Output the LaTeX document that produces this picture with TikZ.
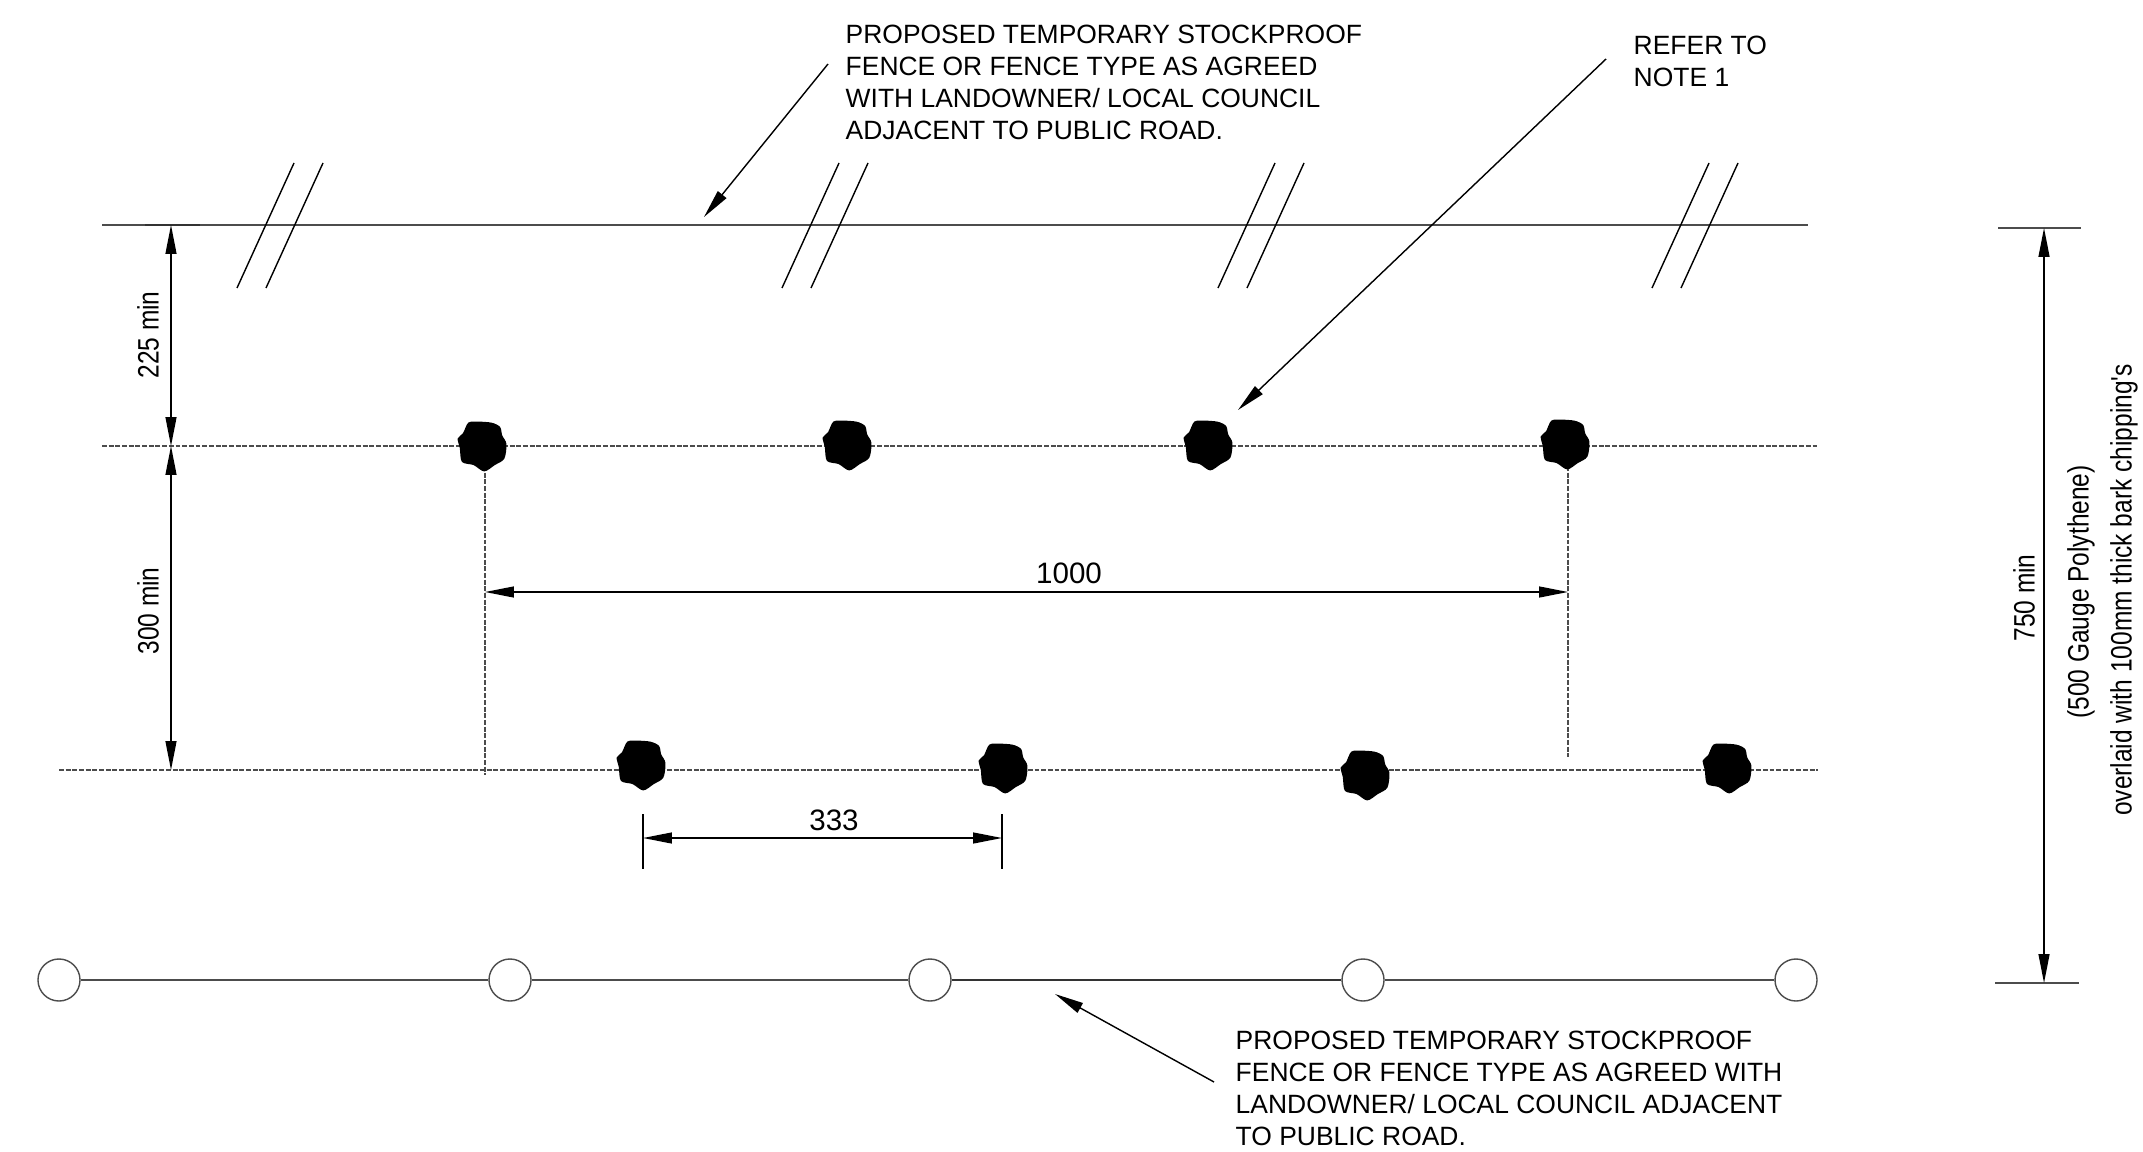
\documentclass[tikz,border=0pt]{standalone}
\usepackage{fontspec}
\setmainfont{Liberation Sans}
\newfontfamily\narrowfont[FakeStretch=0.83]{Liberation Sans}
\usetikzlibrary{arrows.meta}

\begin{document}
\begin{tikzpicture}[
x=0.01 cm,
y=-0.01 cm,
line width=0.4 pt,
black!70,
dimline/.style={black, {Triangle[length=8.2pt, width=3.1pt]}-{Triangle[length=8.2pt, width=3.1pt]}},
leaderline/.style={black, -{Triangle[length=8.2pt, width=3.1pt]}},
breakline/.style={black},
heavyline/.style={black!80, line width=0.8 pt},
plantline/.style={dash pattern=on 1.4 pt off 0.5 pt, black!70},
fencepost/.style={circle, draw, minimum size=0.42 cm, inner sep=0 pt, fill=white},
notetext/.style={black, align=left, anchor=west, inner sep=0 pt, font=\fontsize{7.52}{9.1}\selectfont},
dimtext/.style={black, inner sep=0 pt, font=\fontsize{8.4}{9.1}\selectfont},
sidetext/.style={black, inner sep=0 pt, rotate=90, font=\fontsize{8.4}{9.1}\selectfont\narrowfont},
plantblob/.pic={
\fill[black] plot[smooth cycle] coordinates{
(-12,-22) (-3,-23) (10,-22) (18,-18) (20,-10) (24,-2) (22,12) (13,18) (3,24) (-7,18) (-18,15) (-20,2) (-22,-7) (-17,-12)
};
}
]

\useasboundingbox (0,0) rectangle (2143,1152);

\path
% fence line
(102,225) coordinate(f1)
(1808,225) coordinate(f2)
(145,225) coordinate(k1)
(200,225) coordinate(k2)
% planting lines
(102,446) coordinate(r1)
(1818,446) coordinate(r2)
(59,770) coordinate(q1)
(1818,770) coordinate(q2)
% 225 and 300
(171,225) coordinate(a1)
(171,446) coordinate(a2)
(171,770) coordinate(a3)
% 1000
(485,446) coordinate(b1)
(485,775) coordinate(b2)
(1568,446) coordinate(c1)
(1568,757) coordinate(c2)
(485,592) coordinate(b3)
(1568,592) coordinate(c3)
% 333
(643,814) coordinate(d1)
(643,869) coordinate(d2)
(1002,814) coordinate(e1)
(1002,869) coordinate(e2)
(643,838) coordinate(d3)
(1002,838) coordinate(e3)
% 750
(1998,228) coordinate(g1)
(2081,228) coordinate(g2)
(1995,983) coordinate(h1)
(2079,983) coordinate(h2)
(2044,228) coordinate(g3)
(2044,983) coordinate(h3)
% leaders
(828,64) coordinate(l1)
(704,217) coordinate(l2)
(1606,59) coordinate(m1)
(1238,410) coordinate(m2)
(1214,1082) coordinate(n1)
(1055,994) coordinate(n2)
;

% fence with break marks
\draw (f1) -- (f2);
\draw[heavyline] (k1) -- (k2);
\foreach \bx in {237,782,1218,1652}{
\draw[breakline] (\bx,288) -- +(57,-125);
\draw[breakline] (\bx+29,288) -- +(57,-125);
}

% planting lines
\draw[plantline] (r1) -- (r2);
\draw[plantline] (q1) -- (q2);
\draw[plantline] (b1) -- (b2);
\draw[plantline] (c1) -- (c2);

% plants
\foreach \px/\py in {481/446,846/445,1207/445,1564/444,640/765,1002/768,1364/775,1726/768}{
\path (\px,\py) pic[scale=1.06] {plantblob};
}

% dimensions
\draw[dimline] (a1) -- (a2);
\draw[dimline] (a2) -- (a3);
\draw[dimline] (b3) -- (c3);
\draw[breakline] (d1) -- (d2);
\draw[breakline] (e1) -- (e2);
\draw[dimline] (d3) -- (e3);
\draw (g1) -- (g2);
\draw (h1) -- (h2);
\draw[dimline] (g3) -- (h3);

\node[dimtext] at (1069,573) (w1000) {1000};
\node[dimtext] at (834,820) (w333) {333};
\node[sidetext] at (148,335) (w225) {225 min};
\node[sidetext] at (148,611) (w300) {300 min};
\node[sidetext] at (2024,598) (w750) {750 min};
\node[sidetext] at (2081,592) (gauge) {(500 Gauge Polythene)};
\node[sidetext] at (2124,590) (overlay) {overlaid with 100mm thick bark chipping's};

% post and wire fence
\node[fencepost] at (59,980) (p1) {};
\node[fencepost] at (510,980) (p2) {};
\node[fencepost] at (930,980) (p3) {};
\node[fencepost] at (1363,980) (p4) {};
\node[fencepost] at (1796,980) (p5) {};
\draw (p1) -- (p2);
\draw (p2) -- (p3);
\draw[heavyline] (p3) -- (p4);
\draw (p4) -- (p5);

% notes
\node[notetext] at (845,82) (note1) {PROPOSED TEMPORARY STOCKPROOF\\FENCE OR FENCE TYPE AS AGREED\\WITH LANDOWNER/ LOCAL COUNCIL\\ADJACENT TO PUBLIC ROAD.};
\node[notetext] at (1633,61) (note2) {REFER TO\\NOTE 1};
\node[notetext] at (1235,1088) (note3) {PROPOSED TEMPORARY STOCKPROOF\\FENCE OR FENCE TYPE AS AGREED WITH\\LANDOWNER/ LOCAL COUNCIL ADJACENT\\TO PUBLIC ROAD.};

\draw[leaderline] (l1) -- (l2);
\draw[leaderline] (m1) -- (m2);
\draw[leaderline] (n1) -- (n2);

\end{tikzpicture}
\end{document}
